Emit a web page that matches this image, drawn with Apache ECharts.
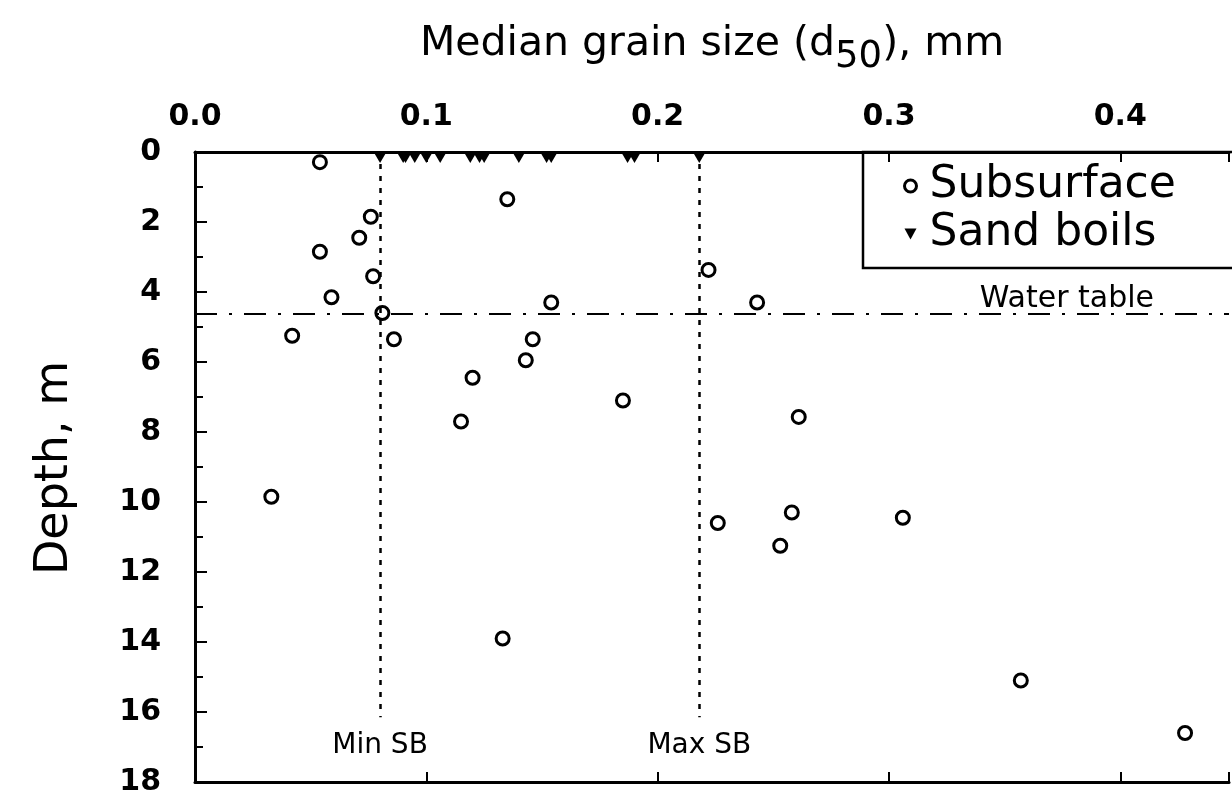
<!DOCTYPE html>
<html>
<head>
<meta charset="utf-8">
<script src="https://cdn.jsdelivr.net/npm/echarts@6/dist/echarts.min.js"></script>
<style>
  html, body { margin: 0; padding: 0; background: #fff; }
  #chart { width: 1232px; height: 808px; }
</style>
</head>
<body>
<div id="chart"></div>
<script>
// median grain size (mm) and depth (m) of subsurface samples
var subGrain = [0.054, 0.135, 0.076, 0.071, 0.054, 0.077, 0.059, 0.154, 0.081, 0.042,
                0.086, 0.146, 0.143, 0.120, 0.115, 0.185, 0.222, 0.243, 0.261, 0.033,
                0.226, 0.258, 0.253, 0.306, 0.133, 0.357, 0.428];
var subDepth = [0.29, 1.35, 1.85, 2.45, 2.85, 3.55, 4.15, 4.3, 4.6, 5.25,
                5.35, 5.35, 5.95, 6.45, 7.7, 7.1, 3.37, 4.3, 7.57, 9.85,
                10.6, 10.3, 11.25, 10.45, 13.9, 15.1, 16.6];
// sand boils, all plotted at the surface
var boilGrain = [0.080, 0.090, 0.091, 0.095, 0.100, 0.106, 0.119, 0.123, 0.125,
                 0.140, 0.152, 0.154, 0.187, 0.190, 0.218];
var boilDepth = [0, 0, 0, 0, 0, 0, 0, 0, 0, 0, 0, 0, 0, 0, 0];

var waterTable = 4.63;
var minSB = 0.080;
var maxSB = 0.218;
var sbLineEnd = 16.15;

var xTicks = [0.0, 0.1, 0.2, 0.3, 0.4];
var yTicks = [0, 2, 4, 6, 8, 10, 12, 14, 16, 18];

var subData = subGrain.map(function (v, i) { return [v, subDepth[i]]; });
var boilData = boilGrain.map(function (v, i) { return [v, boilDepth[i]]; });

var font = 'DejaVu Sans';
var downTri = 'path://M0,0 L10,0 L5,9 Z';

var myChart = echarts.init(document.getElementById('chart'));
var option = {
    backgroundColor: '#fff',
    animation: false,
    grid: {
        left: 195,
        top: 152,
        width: 1037,
        height: 630
    },
    xAxis: [{
        type: 'value',
        position: 'top',
        min: 0,
        max: 0.447,
        interval: 0.1,
        axisLine: { show: true, lineStyle: { color: '#000', width: 3 } },
        axisTick: { show: true, inside: true, length: 10, lineStyle: { color: '#000', width: 2 } },
        splitLine: { show: false },
        axisLabel: {
            margin: 20,
            color: '#000',
            fontFamily: font,
            fontSize: 30,
            fontWeight: 'bold',
            formatter: function (v) {
                var hit = xTicks.filter(function (t) { return Math.abs(t - v) < 1e-6; });
                return hit.length ? hit[0].toFixed(1) : '';
            }
        }
    }, {
        type: 'value',
        position: 'bottom',
        min: 0,
        max: 0.447,
        interval: 0.1,
        axisLine: { show: true, onZero: false, lineStyle: { color: '#000', width: 3 } },
        axisTick: { show: true, inside: true, length: 10, lineStyle: { color: '#000', width: 2 } },
        splitLine: { show: false },
        axisLabel: { show: false }
    }],
    yAxis: {
        type: 'value',
        inverse: true,
        min: 0,
        max: 18,
        interval: 2,
        axisLine: { show: true, lineStyle: { color: '#000', width: 3 } },
        axisTick: { show: true, inside: true, length: 12, lineStyle: { color: '#000', width: 2 } },
        minorTick: { show: true, splitNumber: 2, length: 8, lineStyle: { color: '#000', width: 2 } },
        splitLine: { show: false },
        axisLabel: {
            margin: 34,
            color: '#000',
            fontFamily: font,
            fontSize: 30,
            fontWeight: 'bold',
            formatter: function (v) {
                return yTicks.indexOf(v) >= 0 ? String(v) : '';
            }
        }
    },
    legend: {
        orient: 'vertical',
        left: 863,
        top: 152,
        padding: [12, 200, 12, 40],
        itemGap: 4,
        itemWidth: 12,
        itemHeight: 12,
        borderColor: '#000',
        borderWidth: 2.5,
        textStyle: { fontFamily: font, fontSize: 44, color: '#000', padding: [0, 0, 0, 8] },
        data: [
            { name: 'Subsurface', icon: 'circle', itemStyle: { color: '#fff', borderColor: '#000', borderWidth: 3 } },
            { name: 'Sand boils', icon: downTri, itemStyle: { color: '#000' } }
        ]
    },
    graphic: [{
        type: 'text',
        style: {
            x: 712,
            y: 44,
            align: 'center',
            verticalAlign: 'middle',
            text: 'Median grain size (d{s|50}), mm',
            fontFamily: font,
            fontSize: 41,
            fill: '#000',
            rich: {
                s: { fontFamily: font, fontSize: 37, padding: [26, 0, 0, 0] }
            }
        }
    }, {
        type: 'text',
        rotation: Math.PI / 2,
        x: 55,
        y: 468,
        style: {
            x: 0,
            y: 0,
            align: 'center',
            verticalAlign: 'middle',
            text: 'Depth, m',
            fontFamily: font,
            fontSize: 46,
            fill: '#000'
        }
    }],
    series: [{
        name: 'Subsurface',
        type: 'scatter',
        data: subData,
        symbol: 'circle',
        symbolSize: 13,
        itemStyle: { color: '#fff', borderColor: '#000', borderWidth: 3, opacity: 1 },
        markLine: {
            silent: true,
            symbol: 'none',
            lineStyle: { color: '#000', width: 2, type: [22, 12, 3, 12] },
            label: {
                show: true,
                position: 'insideEndTop',
                distance: [75, 0],
                formatter: 'Water table',
                fontFamily: font,
                fontSize: 30,
                color: '#000'
            },
            data: [{ yAxis: waterTable }]
        }
    }, {
        name: 'Sand boils',
        type: 'scatter',
        data: boilData,
        clip: false,
        symbol: downTri,
        symbolSize: [14, 12],
        symbolOffset: [0, 5],
        itemStyle: { color: '#000', opacity: 1 },
        markLine: {
            silent: true,
            symbol: 'none',
            lineStyle: { color: '#000', width: 2.5, type: [5, 7] },
            label: {
                show: true,
                position: 'end',
                distance: 14,
                fontFamily: font,
                fontSize: 28,
                color: '#000'
            },
            data: [
                [{ coord: [minSB, 0], label: { formatter: 'Min SB' } }, { coord: [minSB, sbLineEnd] }],
                [{ coord: [maxSB, 0], label: { formatter: 'Max SB' } }, { coord: [maxSB, sbLineEnd] }]
            ]
        }
    }]
};
myChart.setOption(option);
</script>
</body>
</html>
